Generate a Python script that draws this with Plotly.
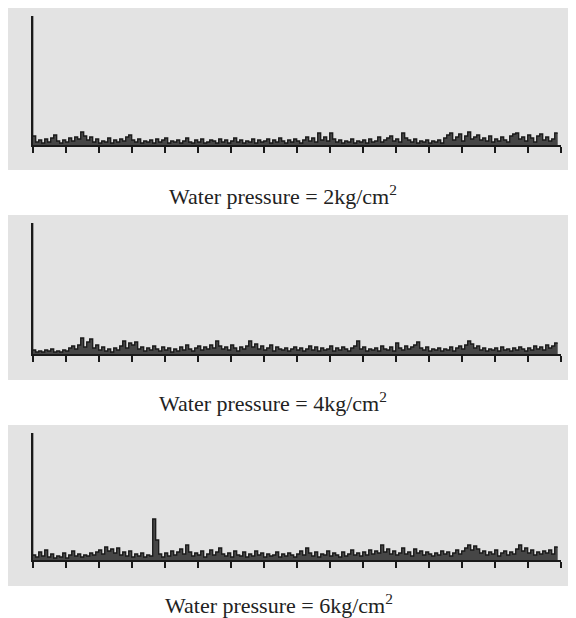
import plotly.graph_objects as go

# Spectral amplitudes (arbitrary units), one value per bin
amp_2kg = [129,
    9, 3, 5, 2, 6, 3, 7, 10, 4, 2,
    5, 3, 7, 4, 8, 6, 13, 9, 5, 8,
    3, 6, 2, 4, 3, 7, 2, 5, 3, 6,
    4, 8, 10, 5, 3, 6, 2, 4, 3, 5,
    2, 6, 3, 5, 7, 2, 4, 3, 5, 2,
    4, 7, 3, 2, 5, 3, 6, 2, 3, 5,
    4, 2, 6, 3, 5, 2, 4, 7, 3, 5,
    2, 4, 3, 6, 2, 5, 3, 4, 6, 2,
    5, 3, 7, 4, 2, 5, 3, 6, 4, 2,
    5, 8, 4, 7, 3, 12, 5, 8, 4, 12,
    6, 3, 5, 2, 4, 3, 6, 2, 4, 3,
    5, 2, 6, 3, 4, 8, 3, 5, 7, 9,
    4, 6, 3, 12, 7, 5, 3, 6, 2, 4,
    3, 5, 2, 4, 3, 5, 2, 7, 10, 12,
    5, 8, 11, 4, 9, 13, 6, 8, 10, 5,
    7, 4, 9, 3, 6, 4, 8, 5, 3, 9,
    11, 12, 6, 8, 4, 10, 7, 3, 9, 11,
    5, 8, 4, 6, 12]

amp_4kg = [131,
    4, 2, 3, 2, 4, 3, 5, 2, 3, 2,
    4, 3, 6, 8, 5, 9, 16, 7, 12, 15,
    6, 9, 4, 7, 3, 5, 2, 6, 4, 8,
    13, 6, 11, 9, 12, 5, 7, 3, 6, 4,
    8, 5, 3, 7, 4, 6, 2, 5, 3, 7,
    4, 9, 5, 3, 6, 8, 4, 7, 5, 9,
    6, 13, 8, 5, 7, 4, 9, 6, 3, 7,
    5, 8, 13, 7, 10, 5, 8, 4, 6, 9,
    3, 7, 5, 4, 6, 3, 5, 7, 4, 6,
    3, 5, 8, 4, 7, 3, 6, 4, 5, 8,
    3, 6, 4, 7, 5, 3, 6, 8, 13, 5,
    7, 3, 5, 4, 6, 3, 8, 5, 4, 7,
    3, 11, 6, 4, 8, 5, 7, 9, 12, 6,
    4, 7, 3, 5, 4, 6, 3, 5, 4, 7,
    3, 6, 8, 5, 9, 13, 10, 6, 8, 4,
    6, 3, 5, 4, 6, 3, 7, 4, 5, 3,
    6, 4, 7, 5, 3, 6, 4, 8, 5, 7,
    4, 9, 6, 8, 11]

amp_6kg = [127,
    5, 3, 8, 4, 10, 3, 6, 2, 4, 3,
    7, 2, 5, 9, 4, 6, 3, 5, 4, 7,
    5, 8, 10, 6, 13, 9, 11, 7, 12, 5,
    8, 4, 9, 3, 6, 4, 7, 3, 5, 4,
    41, 20, 6, 3, 7, 4, 9, 5, 8, 11,
    6, 15, 8, 4, 7, 5, 9, 3, 6, 10,
    5, 8, 12, 6, 4, 7, 3, 9, 5, 4,
    8, 3, 6, 4, 9, 5, 7, 3, 6, 4,
    5, 8, 3, 6, 4, 7, 5, 3, 6, 9,
    5, 12, 7, 4, 8, 3, 6, 5, 9, 4,
    7, 5, 3, 8, 4, 6, 10, 5, 7, 4,
    8, 5, 10, 6, 9, 7, 15, 8, 11, 6,
    9, 5, 7, 12, 6, 8, 4, 11, 7, 9,
    5, 8, 6, 4, 7, 5, 9, 6, 8, 4,
    7, 10, 6, 9, 12, 15, 10, 14, 11, 7,
    9, 5, 8, 6, 10, 4, 7, 9, 5, 8,
    6, 11, 15, 9, 12, 7, 10, 5, 8, 6,
    9, 7, 10, 6, 13]

captions = ["Water pressure = 2kg/cm<sup>2</sup>",
            "Water pressure = 4kg/cm<sup>2</sup>",
            "Water pressure = 6kg/cm<sup>2</sup>"]
n_ticks = 16  # major tick intervals on the frequency axis

OFF = 8                      # page body margin of the html page
W, H = 576 - OFF, 618 - OFF  # figure size inside the window
series = [amp_2kg, amp_4kg, amp_6kg]
baselines = [145, 354, 560]          # px from window top
panels = [(7, 170), (215, 380), (425, 586)]
caption_y = [195, 402, 604]
caption_x = [283, 273, 279]
x0_px, x1_px = 32.7, 560.7


def px_x(v):
    return (v - OFF) / W


def px_y(v):
    return 1 - (v - OFF) / H


fig = go.Figure()
layout = dict(width=W, height=H, margin=dict(l=0, r=0, t=0, b=0),
              paper_bgcolor="white", plot_bgcolor="rgba(0,0,0,0)",
              showlegend=False, shapes=[], annotations=[])

for k, vals in enumerate(series):
    n = len(vals)
    xs = [i * n_ticks / n for i in range(n)]
    sfx = "" if k == 0 else str(k + 1)
    fig.add_trace(go.Scatter(x=xs, y=vals, mode="lines", line_shape="vh",
                             line=dict(color="#1a1a1a", width=1.3),
                             fill="tozeroy", fillcolor="rgba(30,30,30,0.8)",
                             xaxis="x" + sfx, yaxis="y" + sfx,
                             hoverinfo="skip"))
    peak = max(vals)
    base = baselines[k]
    top = base - peak
    layout["xaxis" + sfx] = dict(
        domain=[px_x(x0_px), px_x(x1_px)], range=[0, n_ticks],
        anchor="y" + sfx, showgrid=False, zeroline=False,
        showline=True, linecolor="#1a1a1a", linewidth=1.5,
        ticks="outside", ticklen=6, tickwidth=1.5, tickcolor="#1a1a1a",
        tick0=0, dtick=1, showticklabels=False)
    layout["yaxis" + sfx] = dict(
        domain=[px_y(base), px_y(top)], range=[0, peak],
        anchor="x" + sfx, showgrid=False, zeroline=False,
        showline=True, linecolor="#1a1a1a", linewidth=2,
        ticks="", showticklabels=False)
    p0, p1 = panels[k]
    layout["shapes"].append(dict(type="rect", xref="paper", yref="paper",
                                 x0=0, x1=px_x(574),
                                 y0=px_y(p1), y1=px_y(p0),
                                 fillcolor="#e3e3e3", line=dict(width=0),
                                 layer="below"))
    layout["annotations"].append(dict(
        text=captions[k], xref="paper", yref="paper",
        x=px_x(caption_x[k]), y=px_y(caption_y[k]),
        xanchor="center", yanchor="middle", showarrow=False,
        font=dict(family="Liberation Serif", size=22, color="#222")))

fig.update_layout(**layout)
fig.write_html("out.html")
